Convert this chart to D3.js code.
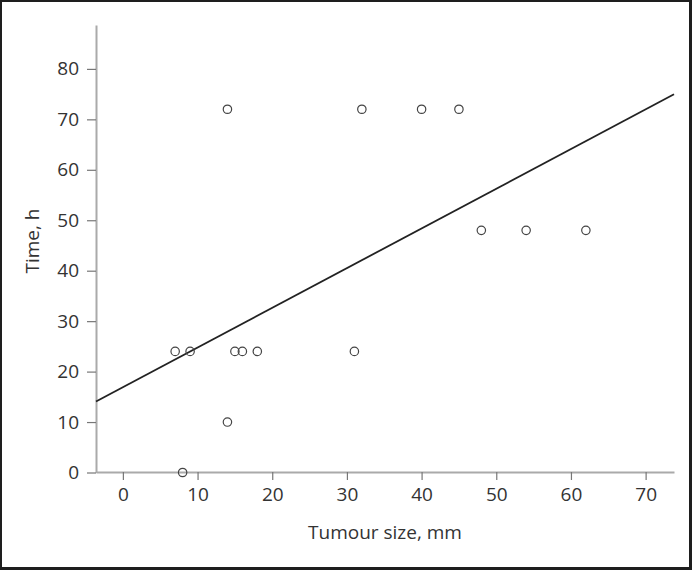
<!DOCTYPE html>
<html><head><meta charset="utf-8">
<script src="https://cdn.jsdelivr.net/npm/d3@7"></script>
<style>body{margin:0;background:#fff}svg{display:block}text{font-family:"Open Sans","Noto Sans",sans-serif;fill:#333}</style>
</head><body>
<script>
const tumourSize = [7, 9, 14, 14, 8, 15, 16, 18, 31, 32, 40, 45, 48, 54, 62];
const timeHours  = [24, 24, 72, 10, 0, 24, 24, 24, 24, 72, 72, 72, 48, 48, 48];
const xTicks = [0, 10, 20, 30, 40, 50, 60, 70];
const yTicks = [0, 10, 20, 30, 40, 50, 60, 70, 80];
const fitLine = {intercept: 16.9, slope: 0.787};
const xLabel = "Tumour size, mm";
const yLabel = "Time, h";

const W = 692, H = 570;
const svg = d3.select("body").append("svg").attr("width", W).attr("height", H);
svg.append("rect").attr("x",0).attr("y",0).attr("width",W).attr("height",H).attr("fill","#1e1e1e");
svg.append("rect").attr("x",2).attr("y",2).attr("width",687).attr("height",565).attr("fill","#fff");

const x = d3.scaleLinear().domain([-3.6, 73.8]).range([96, 674]);
const y = d3.scaleLinear().domain([0, 88.7]).range([472.5, 25]);

// axes
const xAxis = svg.append("g").attr("transform","translate(0,472)")
  .call(d3.axisBottom(x).tickValues(xTicks).tickSize(8).tickSizeOuter(0).tickPadding(8));
const yAxis = svg.append("g").attr("transform","translate(96,0)")
  .call(d3.axisLeft(y).tickValues(yTicks).tickSize(9).tickSizeOuter(0).tickPadding(8));
[xAxis, yAxis].forEach(g => {
  g.select(".domain").attr("stroke","#aaa").attr("stroke-width",2);
  g.selectAll(".tick line").attr("stroke","#777").attr("stroke-width",1.2);
  g.selectAll(".tick text").attr("font-size",19).attr("fill","#2a2a2a")
   .style("font-family",'"Open Sans","Noto Sans",sans-serif');
});

// regression line
const x0 = x.domain()[0], x1 = x.domain()[1];
svg.append("line")
  .attr("x1", x(x0)).attr("y1", y(fitLine.intercept + fitLine.slope*x0))
  .attr("x2", x(x1)).attr("y2", y(fitLine.intercept + fitLine.slope*x1))
  .attr("stroke","#222").attr("stroke-width",1.8);

// points
svg.append("g").selectAll("circle").data(tumourSize.map((d,i)=>[d,timeHours[i]]))
  .join("circle").attr("cx",d=>x(d[0])).attr("cy",d=>y(d[1])).attr("r",4.2)
  .attr("fill","none").attr("stroke","#444").attr("stroke-width",1.2);

// labels
svg.append("text").attr("x",385).attr("y",539).attr("text-anchor","middle")
  .attr("font-size",19).attr("fill","#2a2a2a").text(xLabel);
svg.append("text").attr("transform","translate(39,241) rotate(-90)").attr("text-anchor","middle")
  .attr("font-size",19).attr("fill","#2a2a2a").text(yLabel);
</script>
</body></html>
